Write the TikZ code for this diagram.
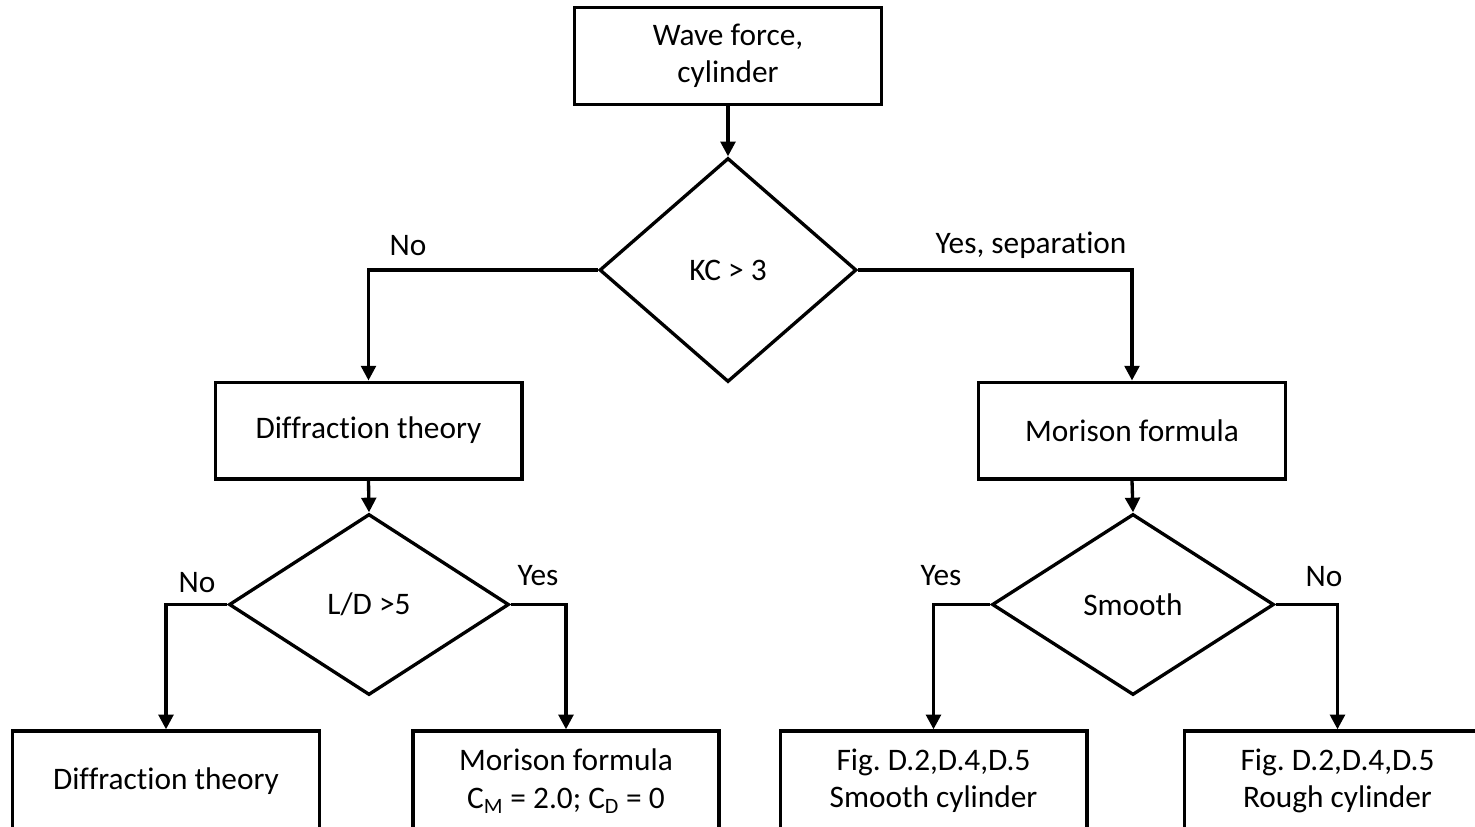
\documentclass[tikz,border=0pt]{standalone}
\usepackage{fontspec}
\setmainfont{Carlito}[Ligatures=NoCommon]
\usetikzlibrary{shapes.geometric,arrows.meta}
\frenchspacing
\begin{document}
\begin{tikzpicture}[x=0.75pt,y=-0.75pt,
  every node/.style={font=\fontsize{23.5}{28}\selectfont},
  box/.style={draw,line width=2.5pt,rectangle,inner sep=0pt,align=center,minimum width=230pt,minimum height=72.5pt},
  lowbox/.style={box,minimum height=75pt},
  decision/.style={draw,line width=2.5pt,diamond,inner sep=0pt,align=center},
  arr/.style={line width=2.5pt,-{Triangle[width=11pt,length=11pt]}},
  lbl/.style={inner sep=0pt}
]
\clip (0,0) rectangle (1475,826);
\fill[white] (0,0) rectangle (1475,826);
\node[box] (top) at (728,56) {Wave force,\\cylinder};
\node[decision,minimum width=192.75pt,minimum height=168pt] (kc) at (728,270) {KC > 3};
\node[box] (diff) at (368.5,430.5) {Diffraction theory};
\node[box] (mor) at (1132,430.5) {Morison formula};
\node[decision,minimum width=210pt,minimum height=135.75pt] (ld) at (369,604.5) {L/D >5};
\node[decision,minimum width=211.5pt,minimum height=135.75pt] (sm) at (1133,604.5) {Smooth};
\node[lowbox] (b1) at (166,781) {Diffraction theory};
\node[lowbox,minimum width=229.5pt] (b2) at (566,781) {Morison formula\\C\textsubscript{M} = 2.0; C\textsubscript{D} = 0};
\node[lowbox] (b3) at (933.5,781) {Fig. D.2,D.4,D.5\\Smooth cylinder};
\node[lowbox] (b4) at (1337.5,781) {Fig. D.2,D.4,D.5\\Rough cylinder};
\draw[arr] (top.south) -- (kc.north);
\draw[arr] (kc.west) -| (diff.north);
\draw[arr] (kc.east) -| (mor.north);
\draw[arr] (diff.south) -- (ld.north);
\draw[arr] (mor.south) -- (sm.north);
\draw[arr] (ld.west) -| (b1.north);
\draw[arr] (ld.east) -| (b2.north);
\draw[arr] (sm.west) -| (b3.north);
\draw[arr] (sm.east) -| (b4.north);
\node[lbl] (l1) at (408,246) {No};
\node[lbl] (l2) at (1031,245) {Yes, separation};
\node[lbl] (l3) at (197,583) {No};
\node[lbl] (l4) at (538,576) {Yes};
\node[lbl] (l5) at (941,576) {Yes};
\node[lbl] (l6) at (1324,577) {No};
\end{tikzpicture}
\end{document}
